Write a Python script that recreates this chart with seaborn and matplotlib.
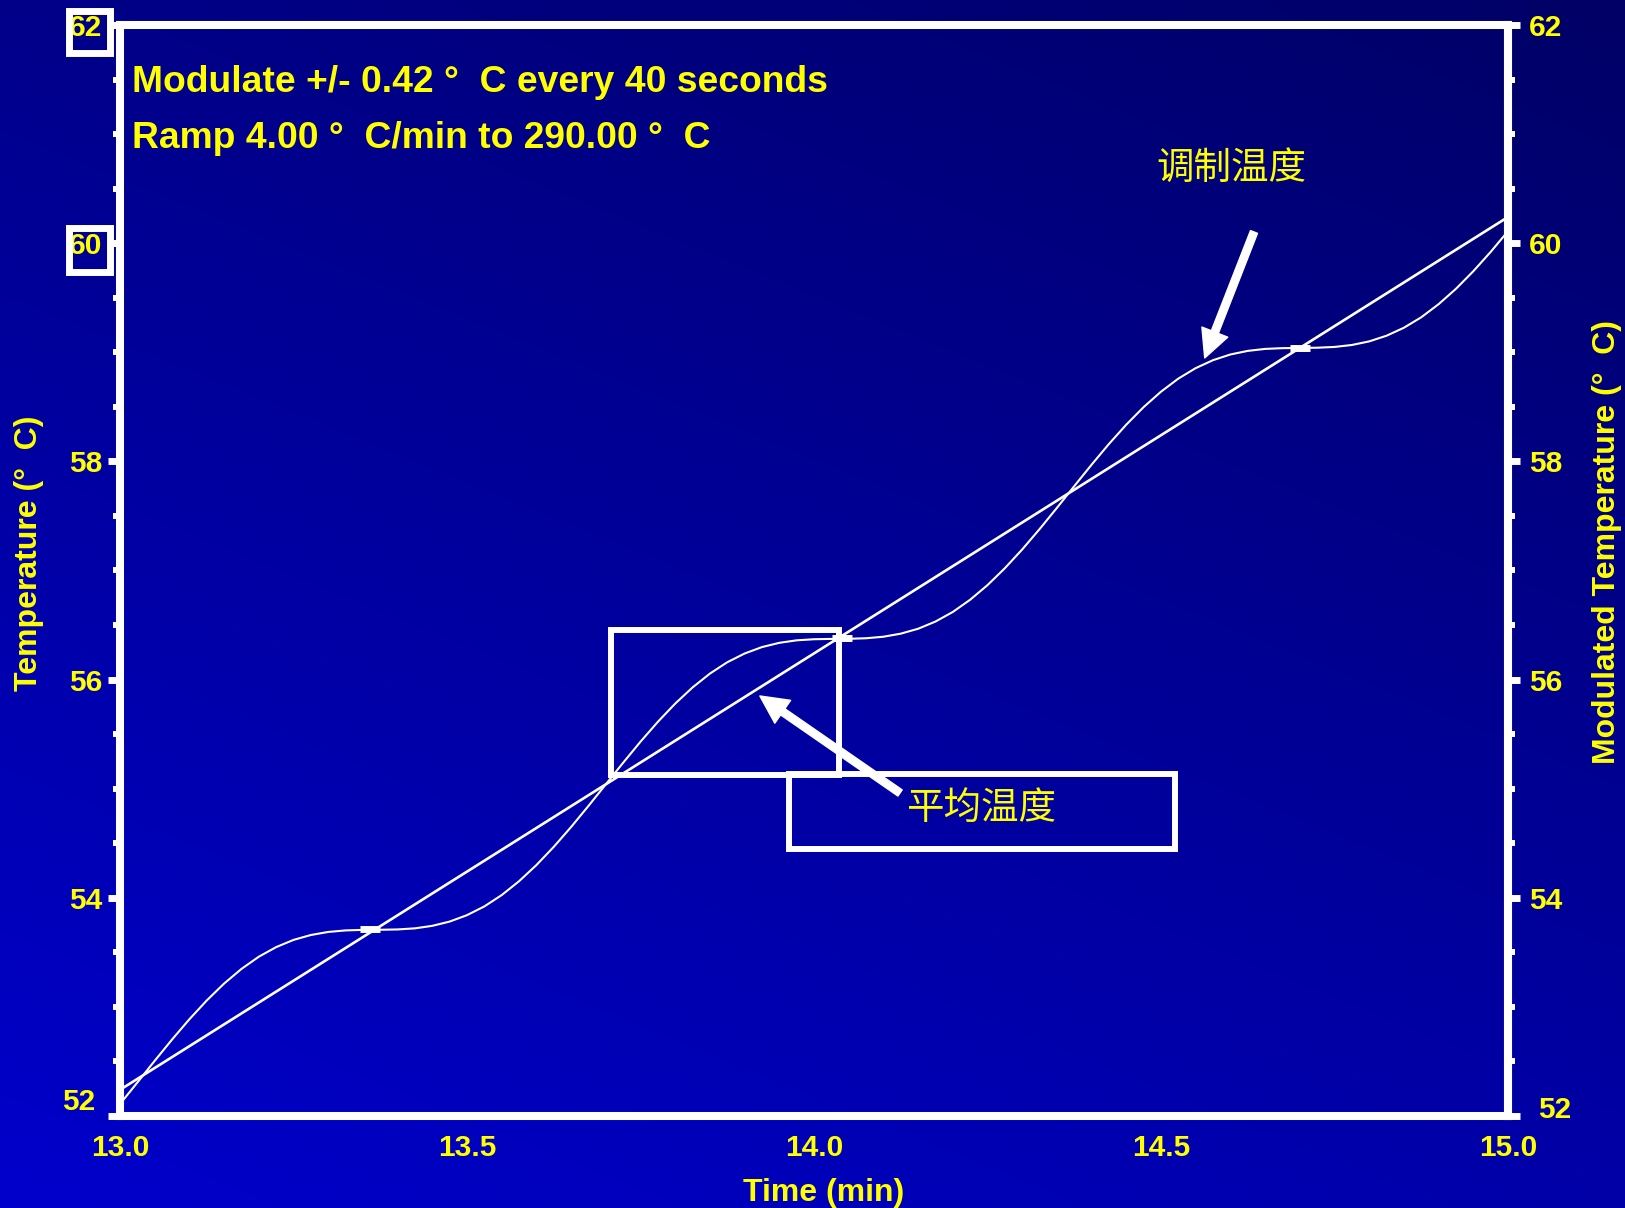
import numpy as np
import pandas as pd
import matplotlib
matplotlib.use("Agg")
import matplotlib.pyplot as plt
import seaborn as sns
from matplotlib.patches import Rectangle
from matplotlib.ticker import MultipleLocator
from matplotlib.transforms import ScaledTranslation, blended_transform_factory

# ---- data -------------------------------------------------------------
time_min = [13.000, 13.025, 13.050, 13.075, 13.100, 13.125, 13.150, 13.175, 13.200, 13.225,
            13.250, 13.275, 13.300, 13.325, 13.350, 13.375, 13.400, 13.425, 13.450, 13.475,
            13.500, 13.525, 13.550, 13.575, 13.600, 13.625, 13.650, 13.675, 13.700, 13.725,
            13.750, 13.775, 13.800, 13.825, 13.850, 13.875, 13.900, 13.925, 13.950, 13.975,
            14.000, 14.025, 14.050, 14.075, 14.100, 14.125, 14.150, 14.175, 14.200, 14.225,
            14.250, 14.275, 14.300, 14.325, 14.350, 14.375, 14.400, 14.425, 14.450, 14.475,
            14.500, 14.525, 14.550, 14.575, 14.600, 14.625, 14.650, 14.675, 14.700, 14.725,
            14.750, 14.775, 14.800, 14.825, 14.850, 14.875, 14.900, 14.925, 14.950, 14.975,
            15.000]

avg_temp = [52.24, 52.34, 52.44, 52.54, 52.64, 52.74, 52.84, 52.94, 53.04, 53.14,
            53.24, 53.34, 53.44, 53.54, 53.64, 53.74, 53.84, 53.94, 54.04, 54.14,
            54.24, 54.34, 54.44, 54.54, 54.64, 54.74, 54.84, 54.94, 55.04, 55.14,
            55.24, 55.34, 55.44, 55.54, 55.64, 55.74, 55.84, 55.94, 56.04, 56.14,
            56.24, 56.34, 56.44, 56.54, 56.64, 56.74, 56.84, 56.94, 57.04, 57.14,
            57.24, 57.34, 57.44, 57.54, 57.64, 57.74, 57.84, 57.94, 58.04, 58.14,
            58.24, 58.34, 58.44, 58.54, 58.64, 58.74, 58.84, 58.94, 59.04, 59.14,
            59.24, 59.34, 59.44, 59.54, 59.64, 59.74, 59.84, 59.94, 60.04, 60.14,
            60.24]

mod_temp = [52.110, 52.307, 52.506, 52.701, 52.887, 53.059, 53.214, 53.348, 53.460, 53.548,
            53.614, 53.659, 53.687, 53.701, 53.706, 53.707, 53.710, 53.720, 53.743, 53.782,
            53.841, 53.921, 54.025, 54.152, 54.300, 54.467, 54.649, 54.842, 55.040, 55.238,
            55.431, 55.613, 55.780, 55.928, 56.055, 56.159, 56.239, 56.298, 56.337, 56.360,
            56.370, 56.373, 56.374, 56.379, 56.393, 56.421, 56.466, 56.532, 56.620, 56.732,
            56.866, 57.021, 57.193, 57.379, 57.574, 57.773, 57.970, 58.160, 58.337, 58.498,
            58.639, 58.759, 58.855, 58.928, 58.980, 59.013, 59.031, 59.038, 59.040, 59.042,
            59.049, 59.067, 59.100, 59.152, 59.225, 59.321, 59.441, 59.582, 59.743, 59.920,
            60.110]

# plateau marks on the modulated trace
plateau_time = [13.36, 14.04, 14.70]
plateau_temp = [53.71, 56.38, 59.04]

x_ticks = [13.0, 13.5, 14.0, 14.5, 15.0]
y_ticks = [52, 54, 56, 58, 60, 62]

title_lines = ["Modulate +/- 0.42 °  C every 40 seconds",
               "Ramp 4.00 °  C/min to 290.00 °  C"]
label_mod = "调制温度"
label_avg = "平均温度"

df = pd.DataFrame({"time": time_min, "avg": avg_temp, "mod": mod_temp})

# ---- style ------------------------------------------------------------
sns.set_style("dark")
plt.rcParams["font.family"] = ["Liberation Sans", "DejaVu Sans"]
plt.rcParams["font.weight"] = "bold"
YELLOW = "#FFFF00"
CJK = ["Noto Sans CJK SC", "DejaVu Sans"]
TICK_FS = 21.5
LABEL_FS = 23

W, H, DPI = 1625, 1208, 100
fig = plt.figure(figsize=(W / DPI, H / DPI), dpi=DPI)

# diagonal blue gradient behind everything
bg = fig.add_axes([0, 0, 1, 1], zorder=-10)
bg.axis("off")
gx, gy = np.meshgrid(np.linspace(0, 1, 200), np.linspace(0, 1, 150))
blue = (204 - 36 * gx - 66 * gy) / 255.0
img = np.dstack([np.zeros_like(blue), np.zeros_like(blue), blue])
bg.imshow(img, origin="lower", extent=[0, 1, 0, 1], aspect="auto",
          interpolation="bilinear")

left, right, top, bottom = 120, 1508, 25, 1116
ax = fig.add_axes([left / W, 1 - bottom / H, (right - left) / W, (bottom - top) / H])
ax.set_facecolor("none")
ax2 = ax.twinx()
ax2.set_facecolor("none")

sns.lineplot(data=df, x="time", y="avg", ax=ax, color="white", linewidth=1.9,
             zorder=3)
sns.lineplot(data=df, x="time", y="mod", ax=ax2, color="white", linewidth=1.5,
             zorder=3)
ax2.plot(plateau_time, plateau_temp, linestyle="none", marker="_",
         markersize=15, markeredgewidth=5, color="white", zorder=4)

for a in (ax, ax2):
    a.set_xlim(13.0, 15.0)
    a.set_ylim(52, 62)
    a.yaxis.set_major_locator(MultipleLocator(2))
    a.yaxis.set_minor_locator(MultipleLocator(0.5))
    a.grid(False)
ax.set_xticks(x_ticks)
ax.set_xticklabels([f"{v:.1f}" for v in x_ticks])
ax.xaxis.set_minor_locator(MultipleLocator(0.125))
ax.set_yticks(y_ticks)
ax2.set_yticks(y_ticks)

SPINE = 5.8
for s in ax.spines.values():
    s.set_color("white")
    s.set_linewidth(SPINE)
for name, s in ax2.spines.items():
    s.set_visible(name == "right")
    s.set_color("white")
    s.set_linewidth(SPINE)

tick_kw = dict(direction="out", color="white", labelcolor=YELLOW, labelsize=TICK_FS)
ax.tick_params(axis="x", which="major", length=8.6, width=5, pad=4.5, **tick_kw)
ax.tick_params(axis="x", which="minor", length=5, width=4.3, color="white")
ax.tick_params(axis="y", which="major", length=8.6, width=5, pad=4,
               left=True, right=False, **tick_kw)
ax.tick_params(axis="y", which="minor", length=5, width=4.3, color="white",
               left=True, right=False)
ax2.tick_params(axis="y", which="major", length=8.6, width=5, pad=6.5, **tick_kw)
ax2.tick_params(axis="y", which="minor", length=5, width=4.3, color="white")
ax.tick_params(axis="x", which="both", top=False)

for lbl in ax.get_xticklabels() + ax.get_yticklabels() + ax2.get_yticklabels():
    lbl.set_fontweight("bold")

# the "52" labels sit a little off their ticks
ax.get_yticklabels()[0].set_transform(
    ax.get_yticklabels()[0].get_transform() + ScaledTranslation(-0.07, 0.17, fig.dpi_scale_trans))
ax2.get_yticklabels()[0].set_transform(
    ax2.get_yticklabels()[0].get_transform() + ScaledTranslation(0.09, 0.09, fig.dpi_scale_trans))

# frames around the upper left tick labels
blend = blended_transform_factory(ax.transAxes, ax.transData)
for y0, y1 in [(61.74, 62.13), (59.74, 60.14)]:
    ax.add_patch(Rectangle((-0.0364, y0), 0.0295, y1 - y0, fill=False,
                           edgecolor="white", linewidth=5, transform=blend,
                           clip_on=False, zorder=5))

# axis titles
ax.set_xlabel("Time (min)", color=YELLOW, fontsize=LABEL_FS, fontweight="bold")
ax.xaxis.set_label_coords(0.5072, -0.0705)
ax.xaxis.label.set_va("center")
ax.set_ylabel("Temperature (°  C)", color=YELLOW, fontsize=LABEL_FS, fontweight="bold")
ax.yaxis.set_label_coords(-0.0656, 0.516)
ax.yaxis.label.set_va("center")
ax2.set_ylabel("Modulated Temperature (°  C)", color=YELLOW, fontsize=LABEL_FS,
               fontweight="bold")
ax2.yaxis.set_label_coords(1.0713, 0.526)
ax2.yaxis.label.set_va("center")

# method text
ax2.text(0.0086, 0.9386, title_lines[0], transform=ax2.transAxes, color=YELLOW,
         fontsize=26.8, fontweight="bold", va="baseline", ha="left")
ax2.text(0.0086, 0.8873, title_lines[1], transform=ax2.transAxes, color=YELLOW,
         fontsize=26.8, fontweight="bold", va="baseline", ha="left")

# call-outs
ax2.text(0.8004, 0.8689, label_mod, transform=ax2.transAxes, color=YELLOW,
         fontsize=27, family=CJK, fontweight="medium", ha="center", va="center")
ax2.text(0.6203, 0.2823, label_avg, transform=ax2.transAxes, color=YELLOW,
         fontsize=27, family=CJK, fontweight="medium", ha="center", va="center")

arrow = dict(arrowstyle="simple,head_length=1.0,head_width=1.0,tail_width=0.27",
             color="white", shrinkA=0, shrinkB=0, mutation_scale=20)
ax2.annotate("", xy=(14.563, 58.948), xytext=(14.634, 60.103),
             arrowprops=arrow, zorder=6)
ax2.annotate("", xy=(13.922, 55.850), xytext=(14.124, 54.961),
             arrowprops=arrow, zorder=6)

ax2.add_patch(Rectangle((13.7075, 55.126), 0.3285, 1.329, fill=False,
                        edgecolor="white", linewidth=4.3, zorder=5))
ax2.add_patch(Rectangle((13.964, 54.447), 0.556, 0.688, fill=False,
                        edgecolor="white", linewidth=4.3, zorder=5))

fig.savefig("out.png", dpi=DPI)
